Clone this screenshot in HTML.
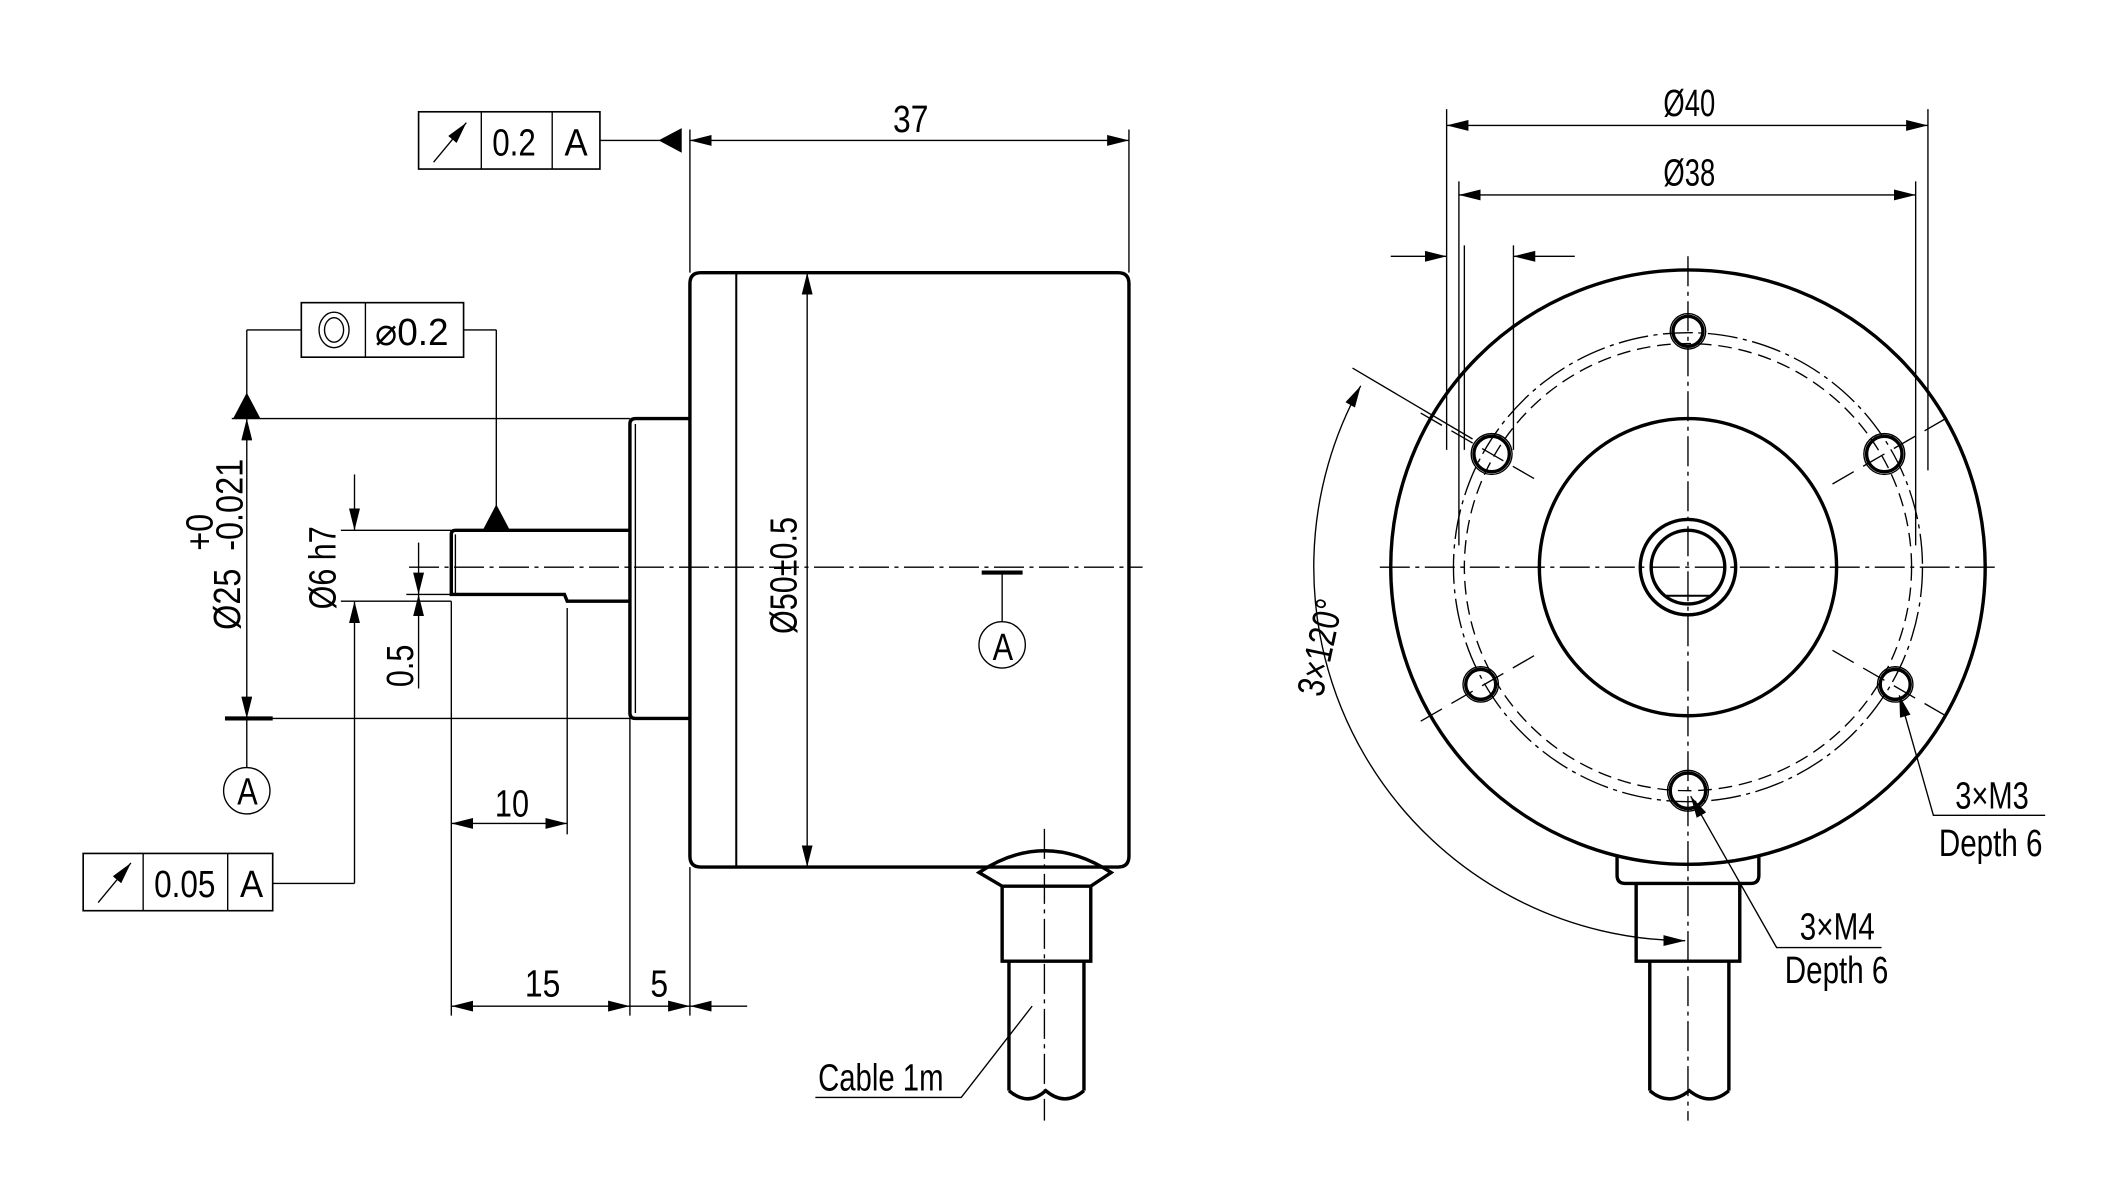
<!DOCTYPE html>
<html><head><meta charset="utf-8"><style>
html,body{margin:0;padding:0;background:#fff;}
svg{display:block;}
text{font-family:"Liberation Sans",sans-serif;font-size:28px;fill:#000;}
</style></head><body>
<svg width="2127" height="1182" viewBox="0 0 1560 867" preserveAspectRatio="none" xmlns="http://www.w3.org/2000/svg">
<defs>
<marker id="a" markerWidth="16" markerHeight="8" refX="16" refY="4" orient="auto" markerUnits="userSpaceOnUse"><path d="M0,0 L16,4 L0,8 Z" fill="#000"/></marker>
<marker id="b" markerWidth="16" markerHeight="8" refX="0" refY="4" orient="auto" markerUnits="userSpaceOnUse"><path d="M16,0 L0,4 L16,8 Z" fill="#000"/></marker>
</defs>
<g fill="none" stroke="#000">
<g stroke-width="1" stroke-dasharray="22,4,3,4">
<line x1="300" y1="416" x2="838" y2="416"/>
<line x1="766" y1="608" x2="766" y2="822"/>
<line x1="1012" y1="416" x2="1465" y2="416"/>
<line x1="1238" y1="188" x2="1238" y2="822"/>
<circle cx="1238" cy="416" r="172"/>
</g>
<circle cx="1238" cy="416" r="164" stroke-width="1" stroke-dasharray="10,5"/>
<g stroke-width="1" stroke-dasharray="18,8">
<line x1="1042" y1="303" x2="1132" y2="355"/>
<line x1="1344" y1="355" x2="1434" y2="303"/>
<line x1="1042" y1="529" x2="1132" y2="477"/>
<line x1="1344" y1="477" x2="1434" y2="529"/>
</g>
<g stroke-width="2.5">
<path d="M514,200 H820 Q828,200 828,208 V628 Q828,636 820,636 H514 Q506,636 506,628 V208 Q506,200 514,200 Z"/>
<path d="M506,307 H466 Q462,307 462,311 V523 Q462,527 466,527 H506"/>
<path d="M462,389 H334 Q331,389 331,392 V436 H414 L416,441 H462"/>
<path d="M718,640 Q766,608 815,640 L800,650 H735 Z"/>
<path d="M735,650 V705 H800 V650"/>
<path d="M740,705 V800 M795,705 V800"/>
<path d="M740,800 Q754,812 767,800 Q781,812 795,800"/>
</g>
<line x1="540" y1="200" x2="540" y2="636" stroke-width="1.5"/>
<line x1="466" y1="311" x2="466" y2="523" stroke-width="1"/>
<line x1="334" y1="392" x2="334" y2="436" stroke-width="1"/>
<g stroke-width="2.5">
<circle cx="1238" cy="416" r="218"/>
<circle cx="1238" cy="416" r="109"/>
<circle cx="1238" cy="416" r="35"/>
<circle cx="1238" cy="416" r="27"/>
<path d="M1186,628 V642 Q1186,648 1192,648 H1284 Q1290,648 1290,642 V628"/>
<path d="M1200,648 V705 H1276 V648"/>
<path d="M1210,705 V800 M1268,705 V800"/>
<path d="M1210,800 Q1224,812 1239,800 Q1254,812 1268,800"/>
</g>
<line x1="1220" y1="437" x2="1256" y2="437" stroke-width="1.5"/>
<g stroke-width="2.5">
<circle cx="1238" cy="243" r="11"/>
<circle cx="1094" cy="333" r="13"/>
<circle cx="1382" cy="333" r="13"/>
<circle cx="1086" cy="502" r="11"/>
<circle cx="1390" cy="502" r="11"/>
<circle cx="1238" cy="580" r="13"/>
</g>
<g stroke-width="1">
<circle cx="1238" cy="243" r="13"/>
<circle cx="1094" cy="333" r="15"/>
<circle cx="1382" cy="333" r="15"/>
<circle cx="1086" cy="502" r="13"/>
<circle cx="1390" cy="502" r="13"/>
<circle cx="1238" cy="580" r="15"/>
</g>
<g stroke-width="1">
<line x1="506" y1="95" x2="506" y2="200"/><line x1="828" y1="95" x2="828" y2="200"/>
<line x1="506" y1="103" x2="828" y2="103" marker-start="url(#b)" marker-end="url(#a)"/>
<line x1="440" y1="103" x2="484" y2="103"/>
<rect x="307" y="82" width="133" height="42" stroke-width="1.2"/>
<line x1="353" y1="82" x2="353" y2="124"/><line x1="405" y1="82" x2="405" y2="124"/>
<line x1="318" y1="119" x2="342" y2="90" marker-end="url(#a)"/>
<rect x="221" y="222" width="119" height="40" stroke-width="1.2"/>
<line x1="268" y1="222" x2="268" y2="262"/>
<ellipse cx="245" cy="242" rx="11" ry="13"/><ellipse cx="245" cy="242" rx="7" ry="9"/>
<line x1="221" y1="242" x2="181" y2="242"/><line x1="181" y1="242" x2="181" y2="290"/>
<line x1="340" y1="242" x2="364" y2="242"/><line x1="364" y1="242" x2="364" y2="372"/>
<line x1="170" y1="307" x2="462" y2="307"/>
<line x1="165" y1="527" x2="462" y2="527"/>
<line x1="181" y1="307" x2="181" y2="527" marker-start="url(#b)" marker-end="url(#a)"/>
<line x1="181" y1="527" x2="181" y2="563"/>
<line x1="165" y1="527" x2="200" y2="527" stroke-width="3"/>
<circle cx="181" cy="580" r="17"/>
<line x1="250" y1="389" x2="331" y2="389"/><line x1="250" y1="441" x2="331" y2="441"/>
<line x1="260" y1="348" x2="260" y2="389" marker-end="url(#a)"/>
<line x1="260" y1="441" x2="260" y2="648" marker-start="url(#b)"/>
<line x1="200" y1="648" x2="260" y2="648"/>
<line x1="298" y1="436" x2="331" y2="436"/>
<line x1="307" y1="398" x2="307" y2="436" marker-end="url(#a)"/>
<line x1="307" y1="436" x2="307" y2="505" marker-start="url(#b)"/>
<line x1="331" y1="441" x2="331" y2="745"/>
<line x1="416" y1="446" x2="416" y2="612"/>
<line x1="462" y1="527" x2="462" y2="745"/>
<line x1="506" y1="636" x2="506" y2="745"/>
<line x1="331" y1="604" x2="416" y2="604" marker-start="url(#b)" marker-end="url(#a)"/>
<line x1="331" y1="738" x2="462" y2="738" marker-start="url(#b)" marker-end="url(#a)"/>
<line x1="462" y1="738" x2="506" y2="738" marker-end="url(#a)"/>
<line x1="506" y1="738" x2="548" y2="738" marker-start="url(#b)"/>
<rect x="61" y="626" width="139" height="42" stroke-width="1.2"/>
<line x1="105" y1="626" x2="105" y2="668"/><line x1="167" y1="626" x2="167" y2="668"/>
<line x1="72" y1="662" x2="96" y2="633" marker-end="url(#a)"/>
<line x1="592" y1="200" x2="592" y2="636" marker-start="url(#b)" marker-end="url(#a)"/>
<line x1="720" y1="420" x2="750" y2="420" stroke-width="3"/>
<line x1="735" y1="420" x2="735" y2="456"/>
<circle cx="735" cy="473" r="17"/>
<polyline points="598,805 705,805 757,738"/>
<line x1="1061" y1="80" x2="1061" y2="330"/><line x1="1414" y1="80" x2="1414" y2="345"/>
<line x1="1061" y1="92" x2="1414" y2="92" marker-start="url(#b)" marker-end="url(#a)"/>
<line x1="1070" y1="133" x2="1070" y2="400"/><line x1="1405" y1="133" x2="1405" y2="400"/>
<line x1="1070" y1="143" x2="1405" y2="143" marker-start="url(#b)" marker-end="url(#a)"/>
<line x1="1074" y1="180" x2="1074" y2="330"/><line x1="1110" y1="180" x2="1110" y2="330"/>
<line x1="1020" y1="188" x2="1061" y2="188" marker-end="url(#a)"/>
<line x1="1110" y1="188" x2="1155" y2="188" marker-start="url(#b)"/>
<line x1="992" y1="270" x2="1080" y2="322"/>
<path d="M998,283 A274,274 0 0 0 1236,690" marker-start="url(#b)" marker-end="url(#a)"/>
<polyline points="1393,510 1418,598 1500,598" marker-start="url(#b)"/>
<polyline points="1240,584 1303,695 1380,695" marker-start="url(#b)"/>
</g>
<g fill="#000" stroke="none">
<path d="M483,103 L500,94 L500,112 Z"/>
<path d="M171,307 L191,307 L181,288 Z"/>
<path d="M354,389 L374,389 L364,370 Z"/>
</g>
</g>
<text x="655" y="97" textLength="26" lengthAdjust="spacingAndGlyphs">37</text>
<text x="361" y="114" textLength="32" lengthAdjust="spacingAndGlyphs">0.2</text>
<text x="414" y="114" textLength="17" lengthAdjust="spacingAndGlyphs">A</text>
<text x="275" y="253" textLength="54" lengthAdjust="spacingAndGlyphs">⌀0.2</text>
<text x="113" y="658" textLength="45" lengthAdjust="spacingAndGlyphs">0.05</text>
<text x="176" y="658" textLength="17" lengthAdjust="spacingAndGlyphs">A</text>
<text x="174" y="590" textLength="15" lengthAdjust="spacingAndGlyphs">A</text>
<text x="728" y="484" textLength="15" lengthAdjust="spacingAndGlyphs">A</text>
<text x="363" y="599" textLength="25" lengthAdjust="spacingAndGlyphs">10</text>
<text x="385" y="731" textLength="26" lengthAdjust="spacingAndGlyphs">15</text>
<text x="477" y="731" textLength="13" lengthAdjust="spacingAndGlyphs">5</text>
<text x="600" y="800" textLength="92" lengthAdjust="spacingAndGlyphs">Cable 1m</text>
<g transform="translate(176,462) rotate(-90) scale(0.85,1)"><text x="0" y="0">Ø25</text></g>
<g transform="translate(156,404) rotate(-90) scale(0.85,1)"><text x="0" y="0" font-size="20">+0</text></g>
<g transform="translate(178,404) rotate(-90) scale(0.85,1)"><text x="0" y="0" font-size="20">-0.021</text></g>
<g transform="translate(246,447) rotate(-90) scale(0.8,1)"><text x="0" y="0">Ø6 h7</text></g>
<g transform="translate(303,504) rotate(-90) scale(0.8,1)"><text x="0" y="0">0.5</text></g>
<g transform="translate(584,465) rotate(-90) scale(0.8,1)"><text x="0" y="0">Ø50±0.5</text></g>
<text x="1220" y="85" textLength="38" lengthAdjust="spacingAndGlyphs">Ø40</text>
<text x="1220" y="136" textLength="38" lengthAdjust="spacingAndGlyphs">Ø38</text>
<g transform="translate(970,512) rotate(-78) scale(0.8,1)"><text x="0" y="0">3×120°</text></g>
<text x="1434" y="593" textLength="54" lengthAdjust="spacingAndGlyphs">3×M3</text>
<text x="1422" y="628" textLength="76" lengthAdjust="spacingAndGlyphs">Depth 6</text>
<text x="1320" y="689" textLength="55" lengthAdjust="spacingAndGlyphs">3×M4</text>
<text x="1309" y="721" textLength="76" lengthAdjust="spacingAndGlyphs">Depth 6</text>
</svg>
</body></html>
